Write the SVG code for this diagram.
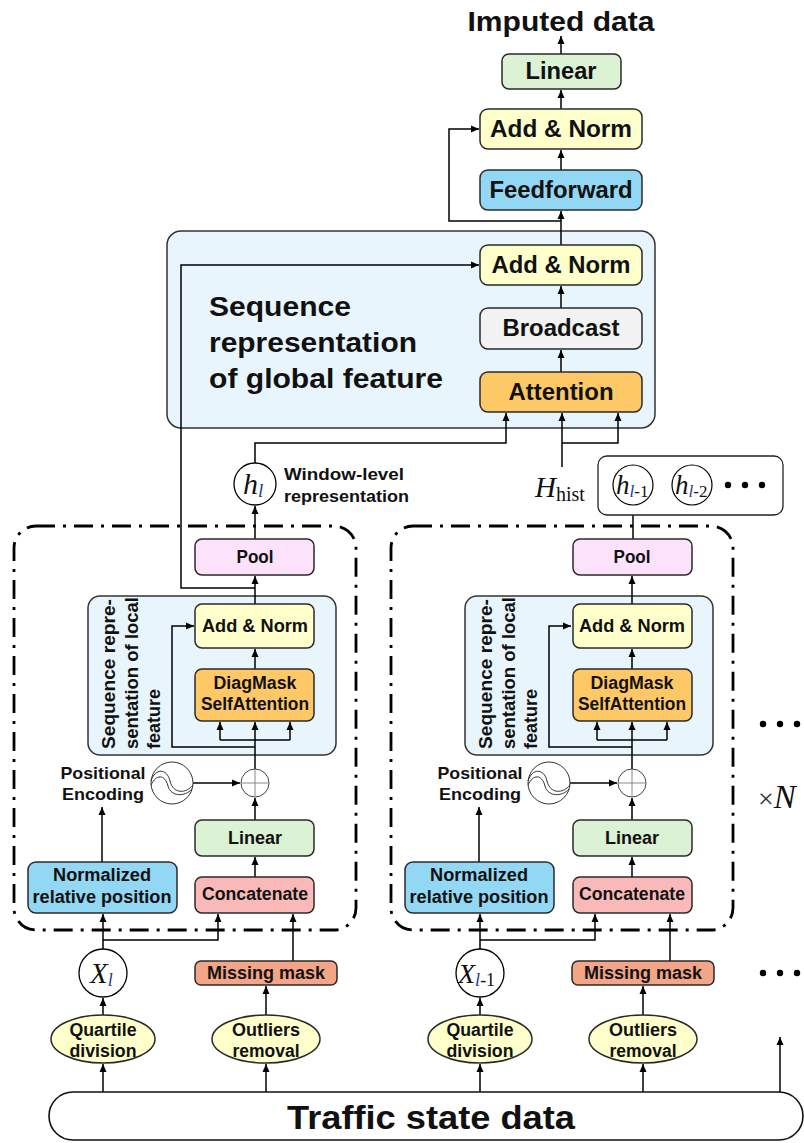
<svg xmlns="http://www.w3.org/2000/svg" width="804" height="1143" viewBox="0 0 804 1143">
  <defs>
    <marker id="ah" markerWidth="9" markerHeight="8" refX="8" refY="4" orient="auto" markerUnits="userSpaceOnUse">
      <path d="M0,0.5 L8,4 L0,7.5 z" fill="#000"/>
    </marker>
    <style>
      .box { stroke: #2a2a2a; stroke-width: 1.5; }
      .t { font-family: "Liberation Sans", Arial, sans-serif; font-weight: bold; fill: #111; }
      .c { text-anchor: middle; }
      .m { font-family: "Liberation Serif", "DejaVu Serif", serif; fill: #111; }
      .sub { fill: #1c3a96; }
      .ln { fill: none; stroke: #000; stroke-width: 1.5; }
      .arr { fill: none; stroke: #000; stroke-width: 1.5; marker-end: url(#ah); }
      .frame { fill: none; stroke: #000; stroke-width: 2.8; stroke-dasharray: 19 8 3 8; }
      .wave { fill: none; stroke: #333; stroke-width: 1; }
      .green { fill: #dcf2d4; }
      .yellow { fill: #ffffcc; }
      .blue { fill: #92d7f4; }
      .grey { fill: #f2f2f2; }
      .orange { fill: #fec866; }
      .pink { fill: #fde2fc; }
      .red { fill: #f9b9b9; }
      .salmon { fill: #f3a687; }
      .panel { fill: #e8f5fc; stroke: #333; stroke-width: 1.5; }
    </style>
  </defs>
  <rect width="804" height="1143" fill="#fff"/>

  <!-- dash-dot module frames -->
  <g id="module-l">
    <rect class="frame" x="14" y="526" width="342" height="404" rx="22"/>
  </g>
  <g id="module-l-1">
    <rect class="frame" x="391" y="526" width="342" height="404" rx="22"/>
  </g>

  <!-- global feature panel -->
  <g id="global-panel">
    <rect class="panel" x="167" y="231" width="488" height="197" rx="14"/>
    <text class="t" font-size="28" x="209" y="316" textLength="142" lengthAdjust="spacingAndGlyphs">Sequence</text>
    <text class="t" font-size="28" x="209" y="352" textLength="208" lengthAdjust="spacingAndGlyphs">representation</text>
    <text class="t" font-size="28" x="209" y="388" textLength="234" lengthAdjust="spacingAndGlyphs">of global feature</text>
  </g>

  <!-- local feature panels -->
  <g id="local-panel-l">
    <rect class="panel" x="88" y="596" width="248" height="159" rx="12"/>
    <text class="t" font-size="17.5" transform="translate(115,749) rotate(-90)">
      <tspan x="0" y="0" textLength="150" lengthAdjust="spacingAndGlyphs">Sequence repre-</tspan>
      <tspan x="0" y="23" textLength="152" lengthAdjust="spacingAndGlyphs">sentation of local</tspan>
      <tspan x="0" y="45" textLength="60" lengthAdjust="spacingAndGlyphs">feature</tspan>
    </text>
  </g>
  <g id="local-panel-l-1">
    <rect class="panel" x="465" y="596" width="248" height="159" rx="12"/>
    <text class="t" font-size="17.5" transform="translate(492,749) rotate(-90)">
      <tspan x="0" y="0" textLength="150" lengthAdjust="spacingAndGlyphs">Sequence repre-</tspan>
      <tspan x="0" y="23" textLength="152" lengthAdjust="spacingAndGlyphs">sentation of local</tspan>
      <tspan x="0" y="45" textLength="60" lengthAdjust="spacingAndGlyphs">feature</tspan>
    </text>
  </g>

  <!-- connectors -->
  <g id="connectors">
    <path class="arr" d="M561,54 V36"/>
    <path class="arr" d="M561,109 V90"/>
    <path class="arr" d="M561,170 V150"/>
    <path class="arr" d="M561,245 V211"/>
    <path class="arr" d="M561,221 H449 V129 H479"/>
    <path class="arr" d="M561,308 V286"/>
    <path class="arr" d="M561,372 V350"/>
    <path class="arr" d="M255,588 H181 V265 H479"/>
    <path class="arr" d="M255,463 V443 H506 V413"/>
    <path class="arr" d="M562,467 V413"/>
    <path class="arr" d="M562,443 H618 V413"/>

    <!-- module l -->
    <path class="arr" d="M255,539 V506"/>
    <path class="arr" d="M255,604 V576"/>
    <path class="arr" d="M255,669 V649"/>
    <path class="arr" d="M255,769 V722"/>
    <path class="ln" d="M220,740 H290"/>
    <path class="arr" d="M220,740 V722"/>
    <path class="arr" d="M290,740 V722"/>
    <path class="arr" d="M255,747 H172 V626 H194"/>
    <path class="arr" d="M193,783 H240"/>
    <path class="arr" d="M255,820 V798"/>
    <path class="arr" d="M255,877 V857"/>
    <path class="arr" d="M102,862 V807"/>
    <path class="arr" d="M103,949 V914"/>
    <path class="arr" d="M103,940 H218 V914"/>
    <path class="arr" d="M293,961 V914"/>
    <path class="arr" d="M103,1015 V998"/>
    <path class="arr" d="M266,1015 V986"/>
    <path class="arr" d="M103,1092 V1064"/>
    <path class="arr" d="M266,1092 V1064"/>

    <!-- module l-1 -->
    <path class="arr" d="M633,539 V506"/>
    <path class="arr" d="M632,604 V576"/>
    <path class="arr" d="M632,669 V649"/>
    <path class="arr" d="M632,769 V722"/>
    <path class="ln" d="M597,740 H667"/>
    <path class="arr" d="M597,740 V722"/>
    <path class="arr" d="M667,740 V722"/>
    <path class="arr" d="M632,747 H549 V626 H571"/>
    <path class="arr" d="M570,783 H617"/>
    <path class="arr" d="M632,820 V798"/>
    <path class="arr" d="M632,877 V857"/>
    <path class="arr" d="M479,862 V807"/>
    <path class="arr" d="M480,949 V914"/>
    <path class="arr" d="M480,940 H595 V914"/>
    <path class="arr" d="M670,961 V914"/>
    <path class="arr" d="M480,1015 V998"/>
    <path class="arr" d="M643,1015 V986"/>
    <path class="arr" d="M480,1092 V1064"/>
    <path class="arr" d="M643,1092 V1064"/>
    <path class="arr" d="M780,1092 V1037"/>
  </g>

  <!-- output stack -->
  <g id="imputed-data">
    <text class="t c" font-size="28" x="561" y="31" textLength="187" lengthAdjust="spacingAndGlyphs">Imputed data</text>
  </g>
  <g id="linear-out">
    <rect class="box green" x="502" y="54" width="119" height="35" rx="7"/>
    <text class="t c" font-size="23" x="561" y="79" textLength="71" lengthAdjust="spacingAndGlyphs">Linear</text>
  </g>
  <g id="addnorm-out">
    <rect class="box yellow" x="480" y="109" width="162" height="40" rx="8"/>
    <text class="t c" font-size="23" x="561" y="137" textLength="142" lengthAdjust="spacingAndGlyphs">Add &amp; Norm</text>
  </g>
  <g id="feedforward">
    <rect class="box blue" x="480" y="170" width="162" height="40" rx="8"/>
    <text class="t c" font-size="23" x="561" y="198" textLength="143" lengthAdjust="spacingAndGlyphs">Feedforward</text>
  </g>
  <g id="addnorm-global">
    <rect class="box yellow" x="480" y="245" width="162" height="40" rx="8"/>
    <text class="t c" font-size="23" x="561" y="273" textLength="139" lengthAdjust="spacingAndGlyphs">Add &amp; Norm</text>
  </g>
  <g id="broadcast">
    <rect class="box grey" x="480" y="308" width="162" height="41" rx="8"/>
    <text class="t c" font-size="23" x="561" y="336" textLength="117" lengthAdjust="spacingAndGlyphs">Broadcast</text>
  </g>
  <g id="attention">
    <rect class="box orange" x="480" y="372" width="162" height="40" rx="8"/>
    <text class="t c" font-size="23" x="561" y="400" textLength="105" lengthAdjust="spacingAndGlyphs">Attention</text>
  </g>

  <!-- window-level representations -->
  <g id="h-l">
    <circle cx="255" cy="484" r="21" fill="#fff" stroke="#000" stroke-width="1.3"/>
    <text class="m" font-style="italic" font-size="30" x="243" y="494">h<tspan class="sub" font-size="19" dy="3">l</tspan></text>
  </g>
  <g id="window-label">
    <text class="t" font-size="17" x="284" y="480" textLength="120" lengthAdjust="spacingAndGlyphs">Window-level</text>
    <text class="t" font-size="17" x="284" y="502" textLength="125" lengthAdjust="spacingAndGlyphs">representation</text>
  </g>
  <g id="h-hist">
    <text class="m" x="535" y="497"><tspan font-style="italic" font-size="29">H</tspan><tspan font-size="20" dy="4">hist</tspan></text>
  </g>
  <g id="history">
    <rect x="598" y="456" width="185" height="59" rx="9" fill="#fff" stroke="#222" stroke-width="1.3"/>
    <circle cx="633" cy="485" r="20" fill="#fff" stroke="#000" stroke-width="1.2"/>
    <text class="m" font-size="27" x="616" y="494"><tspan font-style="italic">h</tspan><tspan class="sub" font-style="italic" font-size="17" dy="3">l</tspan><tspan font-size="17">-1</tspan></text>
    <circle cx="692" cy="485" r="20" fill="#fff" stroke="#000" stroke-width="1.2"/>
    <text class="m" font-size="27" x="675" y="494"><tspan font-style="italic">h</tspan><tspan class="sub" font-style="italic" font-size="17" dy="3">l</tspan><tspan font-size="17">-2</tspan></text>
    <circle cx="728" cy="485" r="3.2" fill="#000"/>
    <circle cx="745" cy="485" r="3.2" fill="#000"/>
    <circle cx="762" cy="485" r="3.2" fill="#000"/>
  </g>

  <!-- module l nodes -->
  <g id="pool-l">
    <rect class="box pink" x="195" y="539" width="119" height="36" rx="7"/>
    <text class="t c" font-size="18" x="255" y="563" textLength="37" lengthAdjust="spacingAndGlyphs">Pool</text>
  </g>
  <g id="addnorm-l">
    <rect class="box yellow" x="195" y="604" width="119" height="44" rx="7"/>
    <text class="t c" font-size="18" x="255" y="632" textLength="106" lengthAdjust="spacingAndGlyphs">Add &amp; Norm</text>
  </g>
  <g id="diagmask-l">
    <rect class="box orange" x="195" y="669" width="119" height="52" rx="7"/>
    <text class="t c" font-size="18" x="255" y="689" textLength="83" lengthAdjust="spacingAndGlyphs">DiagMask</text>
    <text class="t c" font-size="18" x="255" y="710" textLength="108" lengthAdjust="spacingAndGlyphs">SelfAttention</text>
  </g>
  <g id="posenc-l">
    <text class="t c" font-size="17" x="103" y="779" textLength="85" lengthAdjust="spacingAndGlyphs">Positional</text>
    <text class="t c" font-size="17" x="103" y="800" textLength="82" lengthAdjust="spacingAndGlyphs">Encoding</text>
    <circle cx="172" cy="783" r="21" fill="#fff" stroke="#333" stroke-width="1"/>
    <path class="wave" d="M151,781 C155,768 167,768 170,781 C173,794 186,794 193,785"/>
    <path class="wave" d="M151,785 C156,774 165,774 168,786 C171,797 185,797 192,789"/>
  </g>
  <g id="add-l">
    <circle cx="255" cy="783" r="14" fill="#fff" stroke="#444" stroke-width="1"/>
    <path d="M241,783 H269 M255,769 V797" stroke="#888" stroke-width="1"/>
  </g>
  <g id="linear-l">
    <rect class="box green" x="195" y="820" width="119" height="36" rx="7"/>
    <text class="t c" font-size="18" x="255" y="844" textLength="54" lengthAdjust="spacingAndGlyphs">Linear</text>
  </g>
  <g id="normpos-l">
    <rect class="box blue" x="28" y="862" width="149" height="51" rx="8"/>
    <text class="t c" font-size="18" x="102" y="881" textLength="98" lengthAdjust="spacingAndGlyphs">Normalized</text>
    <text class="t c" font-size="18" x="102" y="903" textLength="139" lengthAdjust="spacingAndGlyphs">relative position</text>
  </g>
  <g id="concat-l">
    <rect class="box red" x="195" y="877" width="119" height="36" rx="7"/>
    <text class="t c" font-size="18" x="255" y="900" textLength="106" lengthAdjust="spacingAndGlyphs">Concatenate</text>
  </g>
  <g id="x-l">
    <circle cx="103" cy="973" r="24" fill="#fff" stroke="#000" stroke-width="1.3"/>
    <text class="m" font-style="italic" font-size="29" x="90" y="983">X<tspan class="sub" font-size="18" dy="3">l</tspan></text>
  </g>
  <g id="mask-l">
    <rect class="box salmon" x="195" y="961" width="142" height="24" rx="6"/>
    <text class="t c" font-size="18" x="266" y="979" textLength="118" lengthAdjust="spacingAndGlyphs">Missing mask</text>
  </g>
  <g id="quartile-l">
    <ellipse class="box yellow" cx="103" cy="1039" rx="52" ry="24"/>
    <text class="t c" font-size="18" x="103" y="1036" textLength="67" lengthAdjust="spacingAndGlyphs">Quartile</text>
    <text class="t c" font-size="18" x="103" y="1057" textLength="67" lengthAdjust="spacingAndGlyphs">division</text>
  </g>
  <g id="outliers-l">
    <ellipse class="box yellow" cx="266" cy="1039" rx="54" ry="24"/>
    <text class="t c" font-size="18" x="266" y="1036" textLength="68" lengthAdjust="spacingAndGlyphs">Outliers</text>
    <text class="t c" font-size="18" x="266" y="1057" textLength="67" lengthAdjust="spacingAndGlyphs">removal</text>
  </g>

  <!-- module l-1 nodes -->
  <g id="pool-l-1">
    <rect class="box pink" x="573" y="539" width="119" height="36" rx="7"/>
    <text class="t c" font-size="18" x="632" y="563" textLength="37" lengthAdjust="spacingAndGlyphs">Pool</text>
  </g>
  <g id="addnorm-l-1">
    <rect class="box yellow" x="573" y="604" width="119" height="44" rx="7"/>
    <text class="t c" font-size="18" x="632" y="632" textLength="106" lengthAdjust="spacingAndGlyphs">Add &amp; Norm</text>
  </g>
  <g id="diagmask-l-1">
    <rect class="box orange" x="573" y="669" width="119" height="52" rx="7"/>
    <text class="t c" font-size="18" x="632" y="689" textLength="83" lengthAdjust="spacingAndGlyphs">DiagMask</text>
    <text class="t c" font-size="18" x="632" y="710" textLength="108" lengthAdjust="spacingAndGlyphs">SelfAttention</text>
  </g>
  <g id="posenc-l-1">
    <text class="t c" font-size="17" x="480" y="779" textLength="85" lengthAdjust="spacingAndGlyphs">Positional</text>
    <text class="t c" font-size="17" x="480" y="800" textLength="82" lengthAdjust="spacingAndGlyphs">Encoding</text>
    <circle cx="549" cy="783" r="21" fill="#fff" stroke="#333" stroke-width="1"/>
    <path class="wave" d="M528,781 C532,768 544,768 547,781 C550,794 563,794 570,785"/>
    <path class="wave" d="M528,785 C533,774 542,774 545,786 C548,797 562,797 569,789"/>
  </g>
  <g id="add-l-1">
    <circle cx="632" cy="783" r="14" fill="#fff" stroke="#444" stroke-width="1"/>
    <path d="M618,783 H646 M632,769 V797" stroke="#888" stroke-width="1"/>
  </g>
  <g id="linear-l-1">
    <rect class="box green" x="573" y="820" width="119" height="36" rx="7"/>
    <text class="t c" font-size="18" x="632" y="844" textLength="54" lengthAdjust="spacingAndGlyphs">Linear</text>
  </g>
  <g id="normpos-l-1">
    <rect class="box blue" x="405" y="862" width="149" height="51" rx="8"/>
    <text class="t c" font-size="18" x="479" y="881" textLength="98" lengthAdjust="spacingAndGlyphs">Normalized</text>
    <text class="t c" font-size="18" x="479" y="903" textLength="139" lengthAdjust="spacingAndGlyphs">relative position</text>
  </g>
  <g id="concat-l-1">
    <rect class="box red" x="573" y="877" width="119" height="36" rx="7"/>
    <text class="t c" font-size="18" x="632" y="900" textLength="106" lengthAdjust="spacingAndGlyphs">Concatenate</text>
  </g>
  <g id="x-l-1">
    <circle cx="480" cy="973" r="24" fill="#fff" stroke="#000" stroke-width="1.3"/>
    <text class="m" font-size="28" x="458" y="983"><tspan font-style="italic">X</tspan><tspan class="sub" font-style="italic" font-size="18" dy="3">l</tspan><tspan font-size="18">-1</tspan></text>
  </g>
  <g id="mask-l-1">
    <rect class="box salmon" x="572" y="961" width="142" height="24" rx="6"/>
    <text class="t c" font-size="18" x="643" y="979" textLength="118" lengthAdjust="spacingAndGlyphs">Missing mask</text>
  </g>
  <g id="quartile-l-1">
    <ellipse class="box yellow" cx="480" cy="1039" rx="52" ry="24"/>
    <text class="t c" font-size="18" x="480" y="1036" textLength="67" lengthAdjust="spacingAndGlyphs">Quartile</text>
    <text class="t c" font-size="18" x="480" y="1057" textLength="67" lengthAdjust="spacingAndGlyphs">division</text>
  </g>
  <g id="outliers-l-1">
    <ellipse class="box yellow" cx="643" cy="1039" rx="54" ry="24"/>
    <text class="t c" font-size="18" x="643" y="1036" textLength="68" lengthAdjust="spacingAndGlyphs">Outliers</text>
    <text class="t c" font-size="18" x="643" y="1057" textLength="67" lengthAdjust="spacingAndGlyphs">removal</text>
  </g>

  <!-- repetition marks -->
  <g id="ellipsis-mid">
    <circle cx="763" cy="724" r="3.2" fill="#000"/>
    <circle cx="780" cy="724" r="3.2" fill="#000"/>
    <circle cx="797" cy="724" r="3.2" fill="#000"/>
  </g>
  <g id="times-n">
    <text class="m" x="758" y="808"><tspan font-size="28" fill="#333">×</tspan><tspan font-style="italic" font-size="33">N</tspan></text>
  </g>
  <g id="ellipsis-bottom">
    <circle cx="763" cy="973" r="3.2" fill="#000"/>
    <circle cx="780" cy="973" r="3.2" fill="#000"/>
    <circle cx="797" cy="973" r="3.2" fill="#000"/>
  </g>

  <!-- source data -->
  <g id="traffic-data">
    <rect x="49" y="1092" width="754" height="48" rx="24" fill="#fff" stroke="#111" stroke-width="1.6"/>
    <text class="t c" font-size="34" x="431" y="1129" textLength="288" lengthAdjust="spacingAndGlyphs">Traffic state data</text>
  </g>
</svg>
